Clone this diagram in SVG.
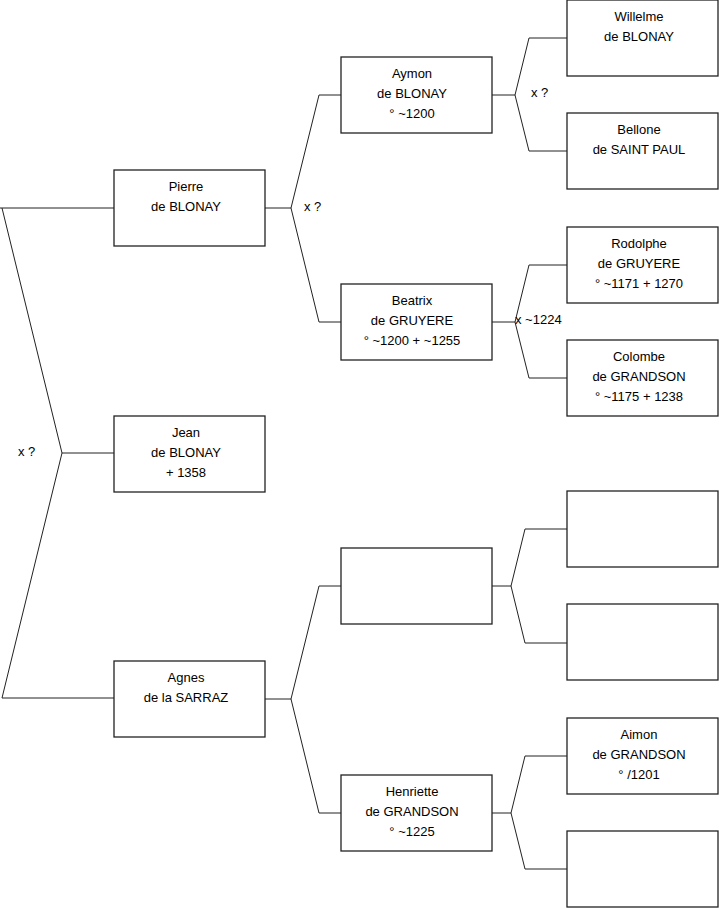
<svg xmlns="http://www.w3.org/2000/svg" width="719" height="908" viewBox="0 0 719 908">
<style>
rect{fill:#fff;stroke:#222;stroke-width:1.3}
path{fill:none;stroke:#222;stroke-width:1}
text{font-family:"Liberation Sans",Arial,sans-serif;font-size:13px;fill:#000}
.c{text-anchor:middle}
</style>
<rect x="0" y="0" width="719" height="908" style="fill:#fff;stroke:none"/>
<g id="connectors">
<path d="M0,208 H114 M2,208 L62,453 L2,698 H114 M62,453 H114"/>
<path d="M265,208 H291 M319,95 L291,208 L319,322 M319,95 H341 M319,322 H341"/>
<path d="M265,699 H291 M319,586 L291,699 L319,813 M319,586 H341 M319,813 H341"/>
<path d="M492,95 H515 M529,38 L515,95 L529,151 M529,38 H567 M529,151 H567"/>
<path d="M492,322 H515 M529,265 L515,322 L529,378 M529,265 H567 M529,378 H567"/>
<path d="M492,586 H511 M525,529 L511,586 L525,643 M525,529 H567 M525,643 H567"/>
<path d="M492,813 H511 M525,756 L511,813 L525,869 M525,756 H567 M525,869 H567"/>
<text x="18" y="456">x ?</text>
<text x="304" y="211">x ?</text>
<text x="531" y="97">x ?</text>
<text x="515" y="324">x ~1224</text>
</g>
<g id="pierre"><rect x="114" y="170" width="151" height="76"/><text class="c" x="186" y="191">Pierre</text><text class="c" x="186" y="211">de BLONAY</text></g>
<g id="jean"><rect x="114" y="416" width="151" height="76"/><text class="c" x="186" y="437">Jean</text><text class="c" x="186" y="457">de BLONAY</text><text class="c" x="186" y="477">+ 1358</text></g>
<g id="agnes"><rect x="114" y="661" width="151" height="76"/><text class="c" x="186" y="682">Agnes</text><text class="c" x="186" y="702">de la SARRAZ</text></g>
<g id="aymon"><rect x="341" y="57" width="151" height="76"/><text class="c" x="412" y="78">Aymon</text><text class="c" x="412" y="98">de BLONAY</text><text class="c" x="412" y="118">° ~1200</text></g>
<g id="beatrix"><rect x="341" y="284" width="151" height="76"/><text class="c" x="412" y="305">Beatrix</text><text class="c" x="412" y="325">de GRUYERE</text><text class="c" x="412" y="345">° ~1200 + ~1255</text></g>
<g id="empty1"><rect x="341" y="548" width="151" height="76"/></g>
<g id="henriette"><rect x="341" y="775" width="151" height="76"/><text class="c" x="412" y="796">Henriette</text><text class="c" x="412" y="816">de GRANDSON</text><text class="c" x="412" y="836">° ~1225</text></g>
<g id="willelme"><rect x="567" y="0" width="151" height="76"/><text class="c" x="639" y="21">Willelme</text><text class="c" x="639" y="41">de BLONAY</text></g>
<g id="bellone"><rect x="567" y="113" width="151" height="76"/><text class="c" x="639" y="134">Bellone</text><text class="c" x="639" y="154">de SAINT PAUL</text></g>
<g id="rodolphe"><rect x="567" y="227" width="151" height="76"/><text class="c" x="639" y="248">Rodolphe</text><text class="c" x="639" y="268">de GRUYERE</text><text class="c" x="639" y="288">° ~1171 + 1270</text></g>
<g id="colombe"><rect x="567" y="340" width="151" height="76"/><text class="c" x="639" y="361">Colombe</text><text class="c" x="639" y="381">de GRANDSON</text><text class="c" x="639" y="401">° ~1175 + 1238</text></g>
<g id="empty2"><rect x="567" y="491" width="151" height="76"/></g>
<g id="empty3"><rect x="567" y="604" width="151" height="76"/></g>
<g id="aimon"><rect x="567" y="718" width="151" height="76"/><text class="c" x="639" y="739">Aimon</text><text class="c" x="639" y="759">de GRANDSON</text><text class="c" x="639" y="779">° /1201</text></g>
<g id="empty4"><rect x="567" y="831" width="151" height="76"/></g>
</svg>
